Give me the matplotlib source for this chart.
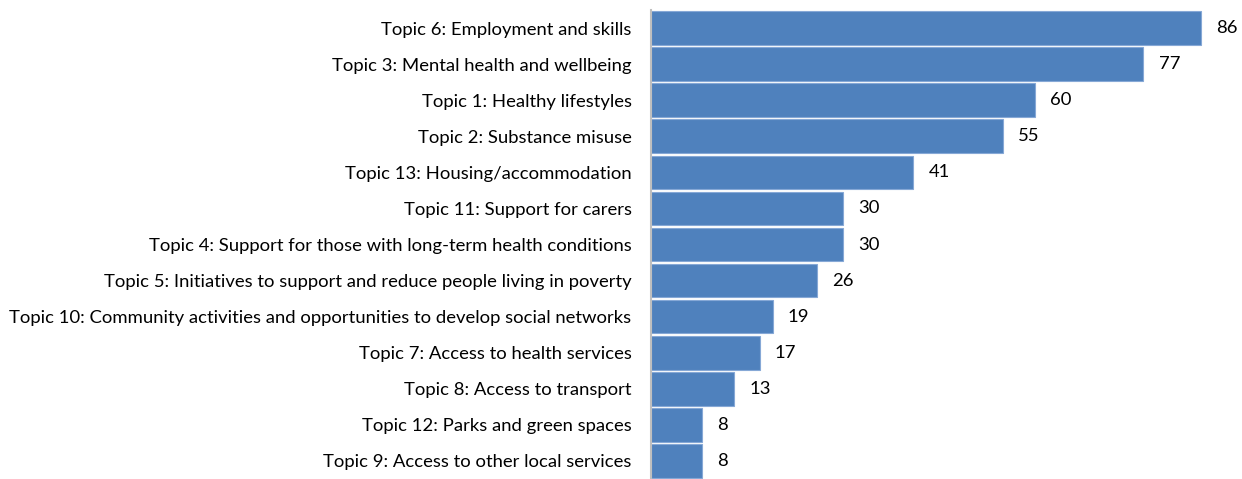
import matplotlib
matplotlib.use("Agg")
import matplotlib.pyplot as plt

topics = [
    "Topic 6: Employment and skills",
    "Topic 3: Mental health and wellbeing",
    "Topic 1: Healthy lifestyles",
    "Topic 2: Substance misuse",
    "Topic 13: Housing/accommodation",
    "Topic 11: Support for carers",
    "Topic 4: Support for those with long-term health conditions",
    "Topic 5: Initiatives to support and reduce people living in poverty",
    "Topic 10: Community activities and opportunities to develop social networks",
    "Topic 7: Access to health services",
    "Topic 8: Access to transport",
    "Topic 12: Parks and green spaces",
    "Topic 9: Access to other local services",
]
counts = [86, 77, 60, 55, 41, 30, 30, 26, 19, 17, 13, 8, 8]

plt.rcParams["font.family"] = ["Lato", "DejaVu Sans"]

fig = plt.figure(figsize=(12.42, 4.79), dpi=100)
ax = fig.add_axes([651 / 1242, 0.0, 1 - 651 / 1242, 469 / 479])

ypos = list(range(len(topics)))
ax.barh(ypos, counts, height=0.93, color="#4F81BD", edgecolor="#86A8D6",
        linewidth=0.8, zorder=2)

for y, v in zip(ypos, counts):
    ax.annotate(str(v), xy=(v, y), xytext=(11, 0), textcoords="offset points",
                ha="left", va="center", fontsize=13.3, color="#000000")

ax.set_yticks(ypos)
ax.set_yticklabels(topics, fontsize=13.3, color="#000000")
ax.tick_params(axis="y", length=0, pad=14)
ax.set_ylim(len(topics) - 0.5, -0.5)
ax.set_xlim(0, (1242 - 651) / (550 / 86))
ax.set_xticks([])

for side in ("top", "right", "bottom"):
    ax.spines[side].set_visible(False)
ax.spines["left"].set_color("#BFBFBF")
ax.spines["left"].set_linewidth(1.5)

fig.savefig("out.png", dpi=100)
